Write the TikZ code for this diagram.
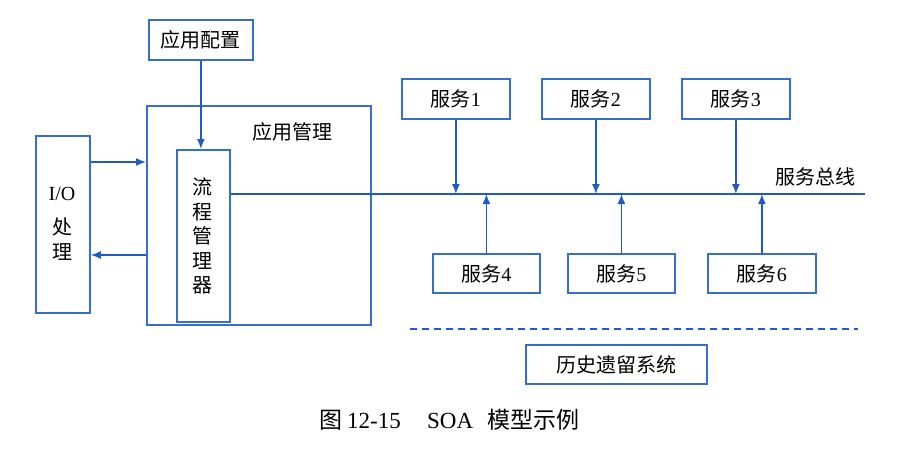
\documentclass[tikz,border=0pt]{standalone}
\usepackage{fontspec}
\setmainfont{Liberation Serif}
\newfontfamily\cjk{Noto Sans CJK SC}
\usetikzlibrary{arrows.meta}
\definecolor{lineblue}{RGB}{30,90,200}
\definecolor{boxblue}{RGB}{55,110,200}
\tikzset{
  box/.style={draw=boxblue, line width=1.8pt, inner sep=0pt, anchor=north west},
  arr/.style={draw=lineblue, line width=1.5pt, -{Latex[length=10pt,width=8pt]}},
  ln/.style={draw=lineblue, line width=1.6pt},
  lbl/.style={font=\fontsize{20}{24}\selectfont, inner sep=0pt},
  captext/.style={font=\fontsize{23}{27}\selectfont, inner sep=0pt, anchor=base west}
}
\begin{document}
\begin{tikzpicture}[x=1pt,y=-1pt]
\useasboundingbox (0,0) rectangle (906,448);
% boxes
\node[box, minimum width=104pt, minimum height=40pt] (cfg) at (148,19) {};
\node[lbl] at (cfg.center) {\cjk 应用配置};
\node[box, minimum width=224pt, minimum height=219pt] (mgr) at (146,105) {};
\node[lbl] (mgrlbl) at (292,132) {\cjk 应用管理};
\node[box, minimum width=54pt, minimum height=177pt] (io) at (35,135) {};
\node[lbl, align=center, font=\fontsize{20}{25}\selectfont] (iolbl) at (62,224) {I/O\\[9pt]{\cjk 处}\\{\cjk 理}};
\node[box, minimum width=53pt, minimum height=172pt] (flow) at (176,149) {};
\node[lbl, align=center, font=\fontsize{20}{24.5}\selectfont] (flowlbl) at (202.5,236) {\cjk 流\\\cjk 程\\\cjk 管\\\cjk 理\\\cjk 器};
% services
\node[box, minimum width=108pt, minimum height=40pt] (s1) at (401,78) {};
\node[lbl] at (s1.center) {{\cjk 服务}1};
\node[box, minimum width=108pt, minimum height=40pt] (s2) at (541,78) {};
\node[lbl] at (s2.center) {{\cjk 服务}2};
\node[box, minimum width=108pt, minimum height=40pt] (s3) at (681,78) {};
\node[lbl] at (s3.center) {{\cjk 服务}3};
\node[box, minimum width=107pt, minimum height=39pt] (s4) at (432,253) {};
\node[lbl] at (s4.center) {{\cjk 服务}4};
\node[box, minimum width=107pt, minimum height=39pt] (s5) at (567,253) {};
\node[lbl] at (s5.center) {{\cjk 服务}5};
\node[box, minimum width=108pt, minimum height=39pt] (s6) at (707,253) {};
\node[lbl] at (s6.center) {{\cjk 服务}6};
\node[lbl] (buslbl) at (815,177) {\cjk 服务总线};
\node[box, minimum width=181pt, minimum height=39pt] (legacy) at (525,344) {};
\node[lbl] at (legacy.center) {\cjk 历史遗留系统};
% coordinates
\coordinate (busend) at (865,194);
\coordinate (ya) at (0,162);
\coordinate (yb) at (0,255);
\coordinate (dl) at (410,329);
\coordinate (dr) at (858,329);
% connectors
\draw[arr] (cfg.south) -- (cfg.south |- flow.north);
\draw[arr] (io.east |- ya) -- (mgr.west |- ya);
\draw[arr] (mgr.west |- yb) -- (io.east |- yb);
\draw[ln] (flow.east |- busend) -- (busend);
\foreach \s in {s1,s2,s3}{\draw[arr] (\s.south) -- (\s.south |- busend);}
\foreach \s in {s4,s5,s6}{\draw[arr] (\s.north) -- (\s.north |- busend);}
\draw[draw=lineblue, line width=1.5pt, dash pattern=on 7pt off 5pt] (dl) -- (dr);
% caption
\node[captext] (cap1) at (319,428) {{\cjk 图}\hspace{5pt}12-15};
\node[captext] (cap2) at (427,428) {SOA};
\node[captext] (cap3) at (487,428) {\cjk 模型示例};
\end{tikzpicture}
\end{document}
